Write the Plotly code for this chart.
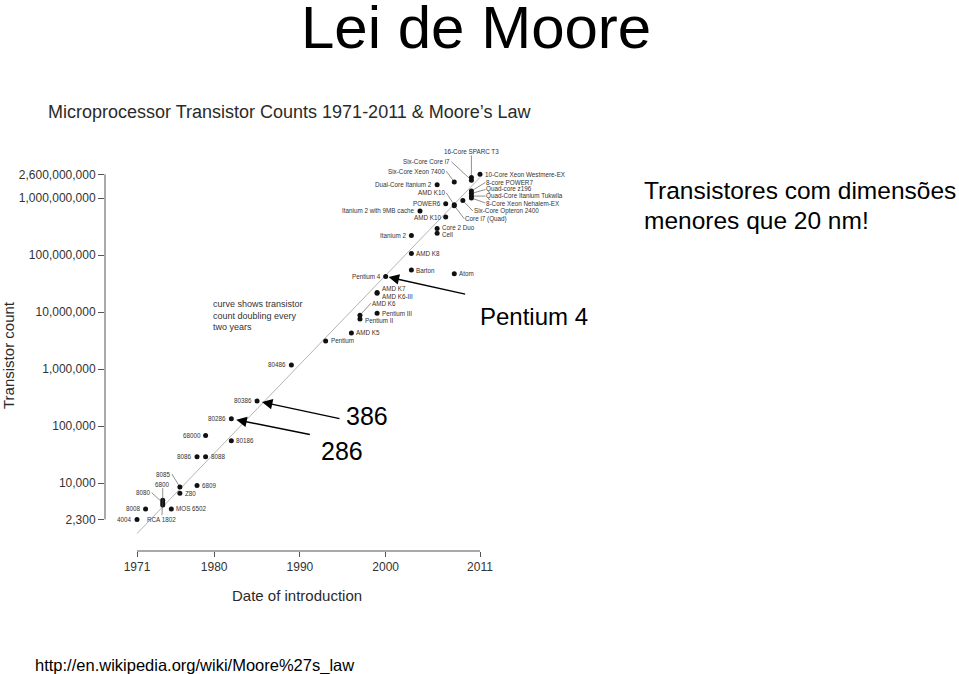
import math
import plotly.graph_objects as go

# ---------------- data ----------------
chip_names = [
    "4004", "8008", "8080", "6800", "RCA 1802", "MOS 6502", "8085", "Z80", "6809",
    "8086", "8088", "68000", "80186", "80286", "80386", "80486", "Pentium", "AMD K5",
    "Pentium II", "AMD K6", "Pentium III", "AMD K6-III", "AMD K7", "Pentium 4",
    "Barton", "AMD K8", "Itanium 2", "Itanium 2 with 9MB cache", "Cell", "Core 2 Duo",
    "Dual-Core Itanium 2", "AMD K10", "POWER6", "AMD K10", "Core i7 (Quad)",
    "Six-Core Xeon 7400", "Atom", "Six-Core Opteron 2400", "16-Core SPARC T3",
    "Six-Core Core i7", "8-core POWER7", "Quad-core z196", "Quad-Core Itanium Tukwila",
    "8-Core Xeon Nehalem-EX", "10-Core Xeon Westmere-EX",
]
chip_years = [
    1971, 1972, 1974, 1974, 1974, 1975, 1976, 1976, 1978,
    1978, 1979, 1979, 1982, 1982, 1985, 1989, 1993, 1996,
    1997, 1997, 1999, 1999, 1999, 2000,
    2003, 2003, 2003, 2004, 2006, 2006,
    2006, 2007, 2007, 2008, 2008,
    2008, 2008, 2009, 2010,
    2010, 2010, 2010, 2010,
    2010, 2011,
]
chip_counts = [
    2300, 3500, 4500, 4100, 5000, 3510, 8500, 6600, 9000,
    29000, 29000, 68000, 55000, 134000, 275000, 1180000, 3100000, 4300000,
    7500000, 8800000, 9500000, 21300000, 22000000, 42000000,
    54300000, 105900000, 220000000, 592000000, 241000000, 291000000,
    1700000000, 463000000, 789000000, 758000000, 731000000,
    1900000000, 47000000, 904000000, 2300000000,
    2050000000, 1330000000, 1200000000, 1080000000,
    1000000000, 2600000000,
]

# Moore's-law reference curve (end points)
curve_years = [1971, 2011]
curve_counts = [1300, 2300000000]

x_tick_vals = [1971, 1980, 1990, 2000, 2011]
x_tick_text = ["1971", "1980", "1990", "2000", "2011"]
y_tick_vals = [2300, 10000, 100000, 1000000, 10000000, 100000000, 1000000000, 2600000000]
y_tick_text = ["2,300", "10,000", "100,000", "1,000,000", "10,000,000",
               "100,000,000", "1,000,000,000", "2,600,000,000"]

# ---------------- label placement (style only) ----------------
# ('L') label left of dot, ('R') label right of dot, ('A', xanchor, ax, ay) leader line
placements = [
    ("L",), ("L",), ("A", "right", -11, -10), ("A", "center", 0, -21), ("A", "center", -1, 19),
    ("R",), ("A", "right", -8, -13), ("R",), ("R",),
    ("L",), ("R",), ("L",), ("R",), ("L",), ("L",), ("L",), ("R",), ("R",),
    ("R", 0, -1), ("A", "left", 11, -12), ("R",), ("R", 0, -3.5), ("R", 0, 4), ("L",),
    ("R",), ("R",), ("L",), ("L",), ("R", 0, -1), ("R", 0, 1.5),
    ("L",), ("L",), ("L",), ("A", "right", -8, -12), ("A", "left", 10, 13),
    ("A", "right", -8, -11), ("R",), ("A", "left", 10, 10.5), ("A", "center", 0, -26),
    ("A", "right", -20, -18.5), ("A", "left", 14, -8.5), ("A", "left", 14, -4), ("A", "left", 14, 0),
    ("A", "left", 14, 5), ("R",),
]

# ---------------- layout geometry ----------------
W, H = 959, 674
L_PX, R_PX, T_PX, B_PX = 105, 959, 100, 551
X0_PX, PX_PER_YEAR = 137.0, 8.575          # 1971 at x=137
Y9_PX, PX_PER_DEC = 198.0, 57.0            # 1e9 at y=198

x_range = [1971 - (X0_PX - L_PX) / PX_PER_YEAR, 1971 + (R_PX - X0_PX) / PX_PER_YEAR]
y_range = [9 - (B_PX - Y9_PX) / PX_PER_DEC, 9 + (Y9_PX - T_PX) / PX_PER_DEC]


def px(xp):
    return (xp - L_PX) / (R_PX - L_PX)


def py(yp):
    return (B_PX - yp) / (B_PX - T_PX)


FONT = "Liberation Sans, Arial, Helvetica, sans-serif"
fig = go.Figure()

fig.add_trace(go.Scatter(
    x=curve_years, y=curve_counts, mode="lines",
    line=dict(color="#b4b4b4", width=1), hoverinfo="skip", showlegend=False,
))
fig.add_trace(go.Scatter(
    x=chip_years, y=chip_counts, mode="markers", text=chip_names,
    marker=dict(color="#111111", size=5), showlegend=False,
))

annotations = []
lab_font = dict(family=FONT, size=6.3, color="#333333")
for name, yr, cnt, pl in zip(chip_names, chip_years, chip_counts, placements):
    ly = math.log10(cnt)
    if pl[0] in ("L", "R"):
        dx = pl[1] if len(pl) > 1 else 0
        dy = pl[2] if len(pl) > 2 else 0
        annotations.append(dict(
            x=yr, y=ly, xref="x", yref="y", text=name, showarrow=False,
            xanchor="right" if pl[0] == "L" else "left",
            xshift=(-3 if pl[0] == "L" else 3) + dx, yshift=dy, font=lab_font,
        ))
    else:
        _, xa, ax, ay = pl
        annotations.append(dict(
            x=yr, y=ly, xref="x", yref="y", text=name, showarrow=True,
            ax=ax, ay=ay, xanchor=xa, arrowhead=0, arrowwidth=0.6,
            arrowcolor="#444444", standoff=2.5, font=lab_font, borderpad=0,
        ))


# big callout arrows
def big_arrow(name, ax, ay, standoff):
    i = chip_names.index(name)
    annotations.append(dict(
        x=chip_years[i], y=math.log10(chip_counts[i]), xref="x", yref="y", text="",
        showarrow=True, ax=ax, ay=ay, arrowhead=2, arrowsize=1.5, arrowwidth=1.4,
        arrowcolor="#000000", standoff=standoff,
    ))


big_arrow("Pentium 4", 81, 18, 3)
big_arrow("80386", 84, 18, 5)
big_arrow("80286", 80, 16, 5)

texts = [
    ("Lei de Moore", 476, 27, 60, "center", "#000000"),
    ("Pentium 4", 534, 316, 24, "center", "#000000"),
    ("386", 367, 416, 25, "center", "#000000"),
    ("286", 342, 451, 25, "center", "#000000"),
    ("Transistores com dimensões", 642, 190, 24.5, "left", "#000000"),
    ("menores que 20 nm!", 642, 220, 24.5, "left", "#000000"),
    ("http://en.wikipedia.org/wiki/Moore%27s_law", 33, 665, 16.5, "left", "#000000"),
    ("Microprocessor Transistor Counts 1971-2011 &amp; Moore’s Law", 46, 112, 18, "left", "#2a2a2a"),
    ("Date of introduction", 297, 595, 15, "center", "#2a2a2a"),
]
for t, xp, yp, size, xa, col in texts:
    annotations.append(dict(
        x=px(xp), y=py(yp), xref="paper", yref="paper", text=t, showarrow=False,
        xanchor=xa, yanchor="middle", font=dict(family=FONT, size=size, color=col),
    ))

annotations.append(dict(
    x=px(211), y=py(315), xref="paper", yref="paper",
    text="curve shows transistor<br>count doubling every<br>two years",
    showarrow=False, xanchor="left", yanchor="middle", align="left",
    font=dict(family=FONT, size=9, color="#333333"),
))
annotations.append(dict(
    x=px(8), y=py(355), xref="paper", yref="paper", text="Transistor count",
    showarrow=False, textangle=-90, xanchor="center", yanchor="middle",
    font=dict(family=FONT, size=15, color="#2a2a2a"),
))

shapes = [
    dict(type="line", xref="x", yref="paper", x0=1971, x1=2011, y0=0, y1=0,
         line=dict(color="#555555", width=1)),
    dict(type="line", xref="paper", yref="y", x0=0, x1=0, y0=2300, y1=2600000000,
         line=dict(color="#555555", width=1)),
]

fig.update_layout(
    width=W, height=H,
    margin=dict(l=L_PX, r=W - R_PX, t=T_PX, b=H - B_PX, autoexpand=False),
    paper_bgcolor="white", plot_bgcolor="white",
    showlegend=False,
    xaxis=dict(range=x_range, tickvals=x_tick_vals, ticktext=x_tick_text,
               ticks="outside", ticklen=5, tickcolor="#555555", tickwidth=1,
               showgrid=False, zeroline=False, showline=False,
               tickfont=dict(family=FONT, size=12, color="#333333")),
    yaxis=dict(type="log", range=y_range, tickvals=y_tick_vals, ticktext=y_tick_text,
               ticks="outside", ticklen=6, tickcolor="#555555", tickwidth=1,
               showgrid=False, zeroline=False, showline=False,
               tickfont=dict(family=FONT, size=12, color="#333333")),
    annotations=annotations, shapes=shapes,
)

fig.write_html("out.html", config={"displayModeBar": False},
               post_script="document.body.style.margin='0';")
